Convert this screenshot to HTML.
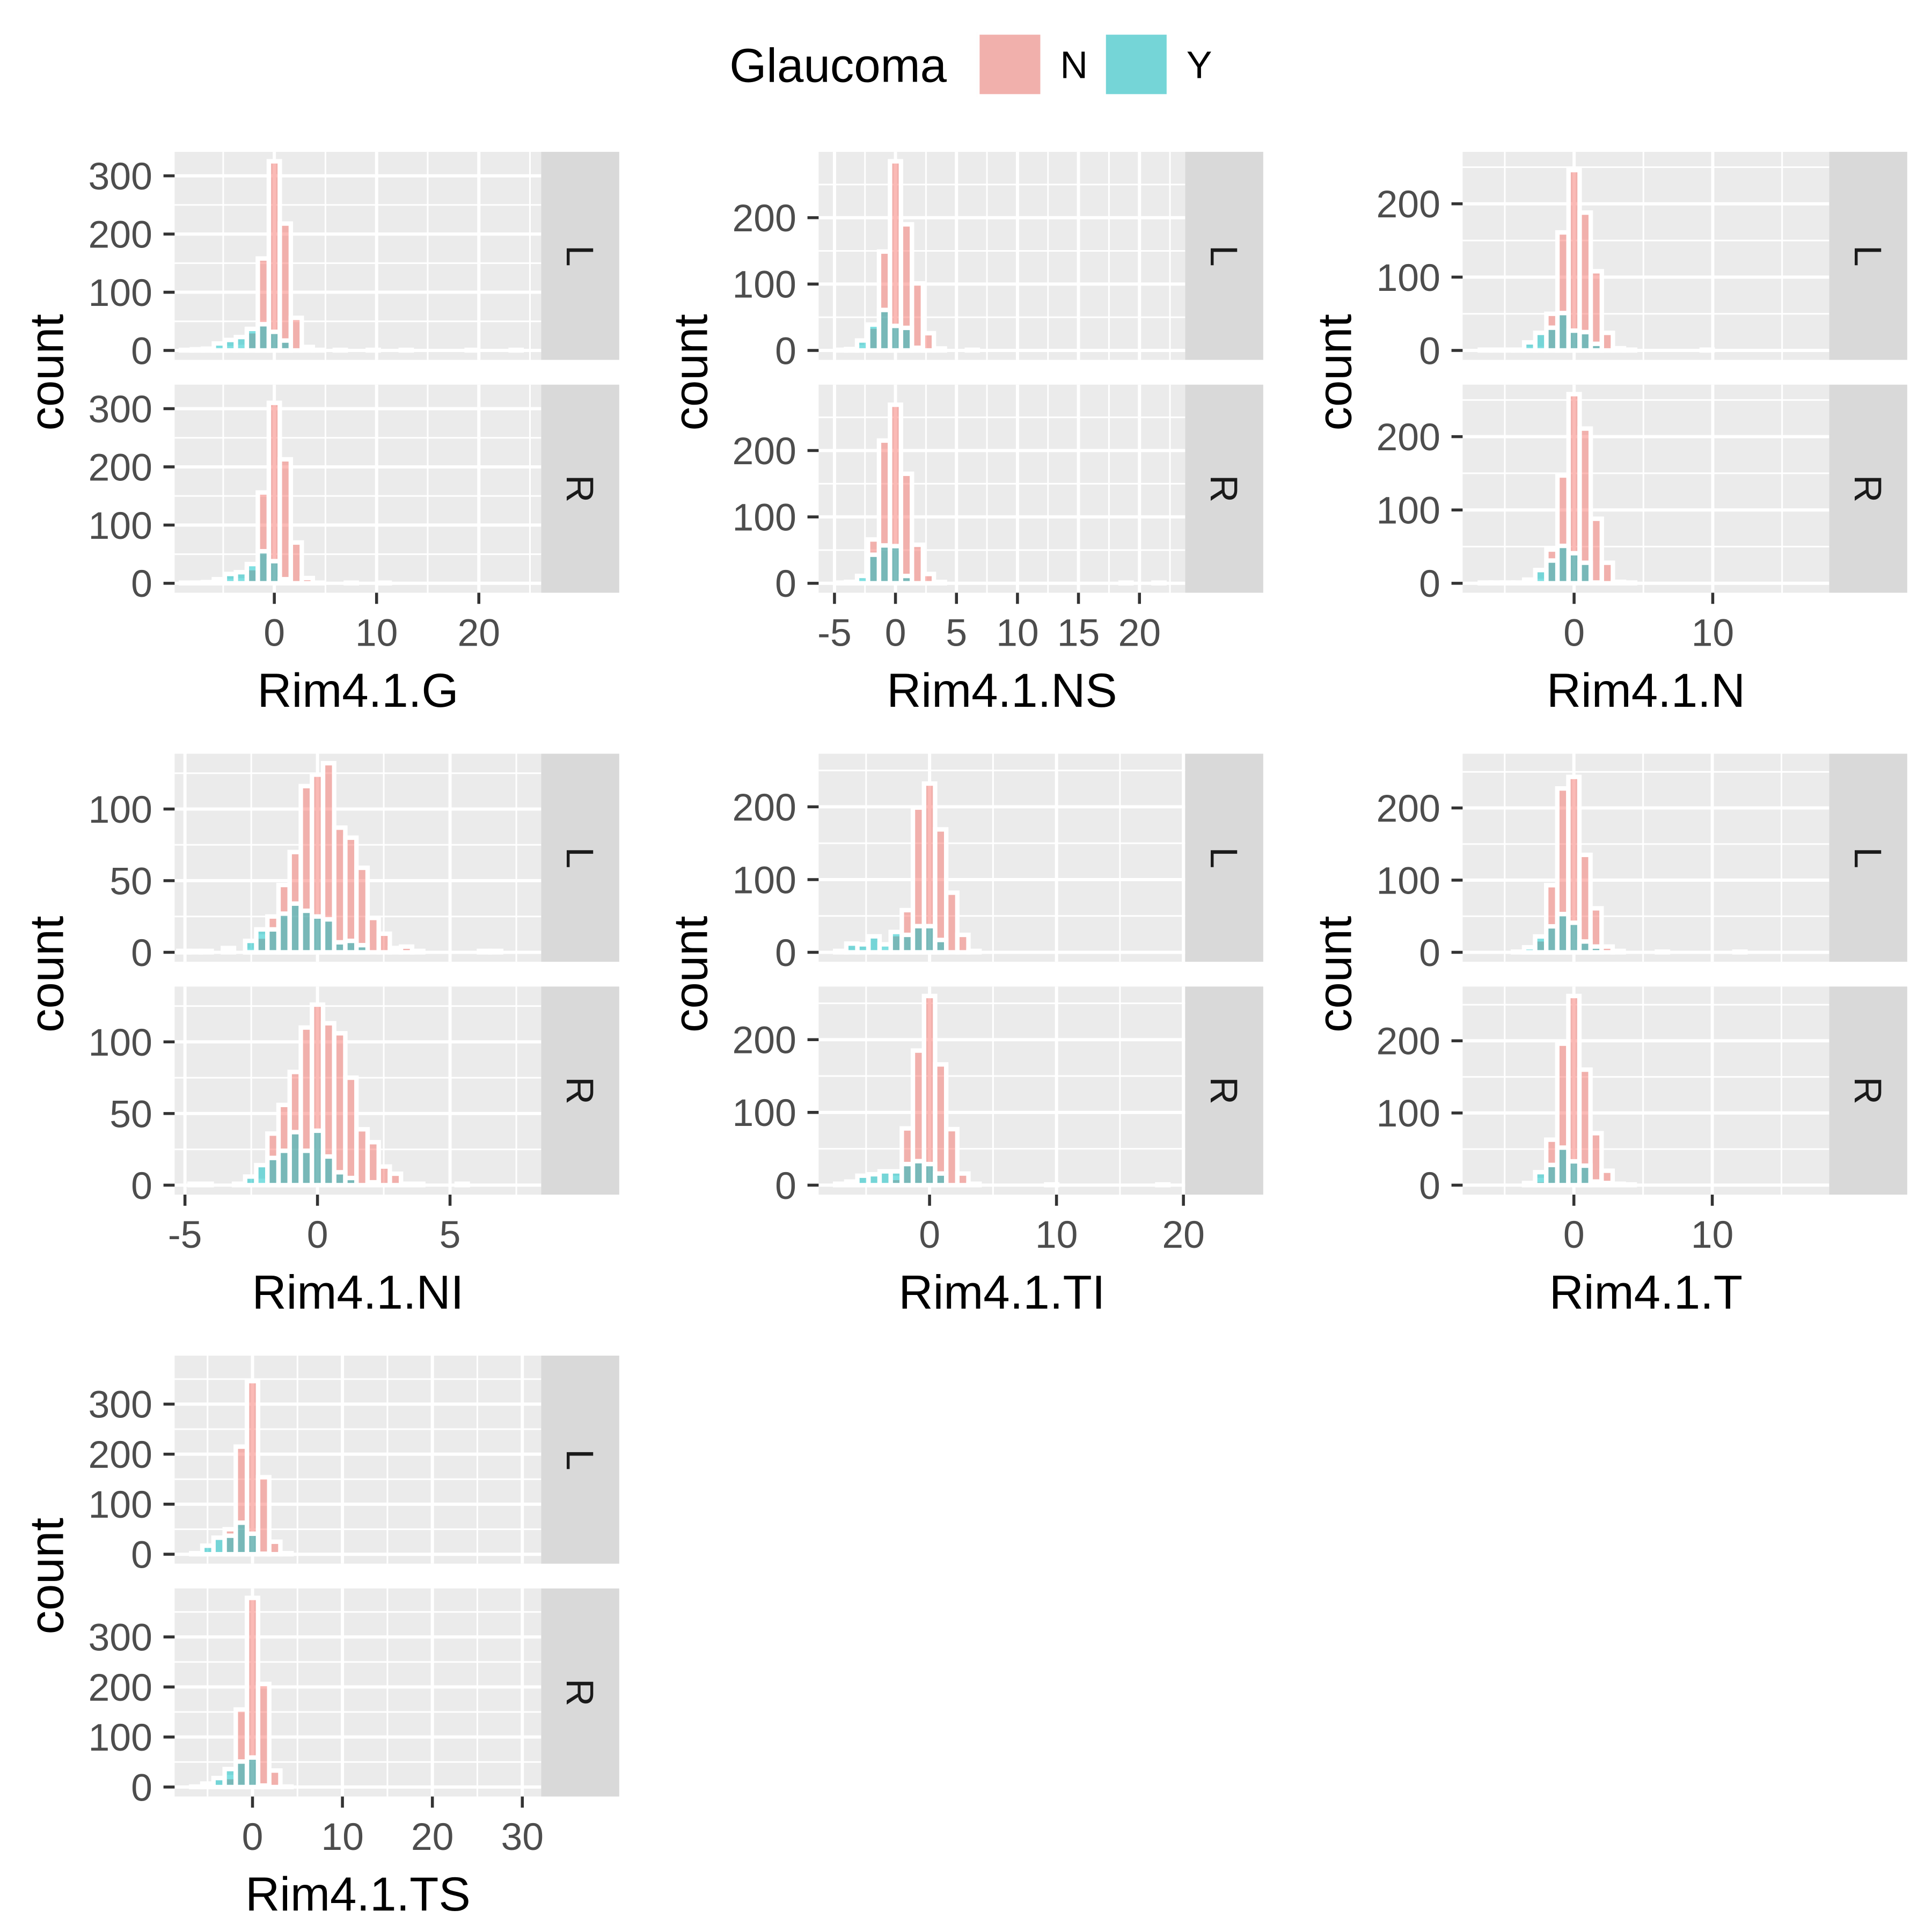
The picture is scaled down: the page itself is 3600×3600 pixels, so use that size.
<!DOCTYPE html>
<html>
<head>
<meta charset="utf-8">
<style>
html,body{margin:0;padding:0;background:#fff;}
svg{display:block;}
text{font-family:"Liberation Sans",Arial,sans-serif;}
</style>
</head>
<body>
<svg id="chart" xmlns="http://www.w3.org/2000/svg" width="3600" height="3600" viewBox="0 0 1560 1560">
  <rect x="0" y="0" width="1560" height="1560" fill="#ffffff"/>
  <g>
    <text x="589" y="66" font-size="38.5" fill="#000">Glaucoma</text>
    <rect x="789" y="26" width="53" height="52" fill="#EBEBEB"/>
    <rect x="790" y="27" width="51" height="50" fill="rgba(248,118,109,0.5)" stroke="#fff" stroke-width="2"/>
    <text x="856" y="63" font-size="31" fill="#000">N</text>
    <rect x="891" y="26" width="53" height="52" fill="#EBEBEB"/>
    <rect x="892" y="27" width="51" height="50" fill="rgba(0,191,196,0.5)" stroke="#fff" stroke-width="2"/>
    <text x="958" y="63" font-size="31" fill="#000">Y</text>
  </g>
  <g id="panels"></g>
</svg>
<script>
// ---- Data (counts per bin; bins start at index k0, bin width bw) ----
// Rim4.1.G
const gL_N = [1,2,2,3,4,6,33,158,325,218,56,6,1,0,1,0,0,1,0,0,1,0,0,0,0,0,1,0,0,0,1,0];
const gL_Y = [0,1,3,12,18,23,37,45,32,17,0,0,0,0,0,0,0,0,0,0,0,0,0,0,0,0,0,0,0,0,0,0];
const gR_N = [1,1,2,3,4,5,26,156,310,213,70,9,1,0,0,1,0,0,1,0,0,0,0,0,0,0,0,0,0,0,0,0];
const gR_Y = [0,1,2,7,16,19,33,55,38,7,0,0,0,0,0,0,0,0,0,0,0,0,0,0,0,0,0,0,0,0,0,0];
// Rim4.1.NS
const nsL_N = [0,1,2,5,36,149,285,190,101,26,3,0,0,1,0,0,0,0,0,0,0,0,0,0,0,0,0,0,0,0,0,0];
const nsL_Y = [0,0,2,15,39,61,37,34,4,0,0,0,0,0,0,0,0,0,0,0,0,0,0,0,0,0,0,0,0,0,0,0];
const nsR_N = [0,1,2,3,66,215,269,165,58,14,2,0,0,0,0,0,0,0,0,0,0,0,0,0,0,0,0,1,0,0,1,0];
const nsR_Y = [0,0,2,11,43,57,56,11,0,0,0,0,0,0,0,0,0,0,0,0,0,0,0,0,0,0,0,0,0,0,0,0];
// Rim4.1.N
const nL_N = [0,1,1,1,1,2,2,50,161,246,188,108,24,3,1,0,0,0,0,0,0,1,0,0,0,0,0,0,0,0,0,0];
const nL_Y = [0,0,0,0,1,11,24,31,51,27,25,9,0,0,0,0,0,0,0,0,0,0,0,0,0,0,0,0,0,0,0,0];
const nR_N = [0,1,1,1,1,1,3,46,147,258,211,88,28,2,1,0,0,0,0,0,0,0,0,0,0,0,0,0,0,0,0,0];
const nR_Y = [0,0,0,0,0,5,18,31,51,41,28,1,0,0,0,0,0,0,0,0,0,0,0,0,0,0,0,0,0,0,0,0];
// Rim4.1.NI
const niL_N = [1,1,1,0,0,0,1,11,25,47,70,116,124,132,87,80,59,24,13,3,4,1,0,0,0,0,0,1,1,0,0,0];
const niL_Y = [0,0,0,0,3,0,8,16,16,27,34,29,25,23,7,8,5,0,0,0,0,0,0,0,0,0,0,0,0,0,0,0];
const niR_N = [0,1,1,0,0,0,0,3,36,56,79,110,126,113,106,75,39,30,13,8,1,1,0,0,0,1,0,0,0,0,0,0];
const niR_Y = [0,0,0,0,0,1,6,14,19,24,37,24,38,20,9,5,0,2,0,0,0,0,0,0,0,0,0,0,0,0,0,0];
// Rim4.1.TI
const tiL_N = [0,2,0,0,0,5,25,58,199,232,169,82,24,2,0,0,0,0,0,0,0,0,0,0,0,0,0,0,0,0,0,0];
const tiL_Y = [0,0,12,11,22,11,28,24,36,36,17,0,0,0,0,0,0,0,0,0,0,0,0,0,0,0,0,0,0,0,0,0];
const tiR_N = [0,2,0,0,0,0,10,78,185,260,166,77,16,2,0,0,0,0,0,0,1,0,0,0,0,0,0,0,0,0,1,0];
const tiR_Y = [0,0,5,13,15,19,19,29,33,29,16,0,0,0,0,0,0,0,0,0,0,0,0,0,0,0,0,0,0,0,0,0];
// Rim4.1.T
const tL_N = [0,0,0,0,1,1,18,93,227,243,135,61,8,2,0,0,0,1,0,0,0,0,0,0,1,0,0,0,0,0,0,0];
const tL_Y = [0,0,0,0,0,7,22,36,53,41,15,8,0,0,0,0,0,0,0,0,0,0,0,0,0,0,0,0,0,0,0,0];
const tR_N = [0,0,0,0,0,1,7,63,196,262,160,72,20,2,1,0,0,0,0,0,0,0,0,0,0,0,0,0,0,0,0,0];
const tR_Y = [0,0,0,0,0,3,18,28,52,33,27,5,3,0,0,0,0,0,0,0,0,0,0,0,0,0,0,0,0,0,0,0];
// Rim4.1.TS
const tsL_N = [0,2,0,0,50,215,346,154,25,2,0,0,0,0,0,0,0,0,0,0,0,0,0,0,0,0,0,0,0,0,0,0];
const tsL_Y = [0,0,17,33,37,63,41,1,0,0,0,0,0,0,0,0,0,0,0,0,0,0,0,0,0,0,0,0,0,0,0,0];
const tsR_N = [0,1,0,0,20,155,378,206,33,1,0,0,0,0,0,0,0,0,0,0,0,0,0,0,0,0,0,0,0,0,0,0];
const tsR_Y = [0,0,7,18,36,51,59,3,0,0,0,0,0,0,0,0,0,0,0,0,0,0,0,0,0,0,0,0,0,0,0,0];

// Tick labels
const gXTicks = [0,10,20];            const gYTicks = [0,100,200,300];
const nsXTicks = [-5,0,5,10,15,20];   const nsYTicks = [0,100,200];
const nXTicks = [0,10];               const nYTicks = [0,100,200];
const niXTicks = [-5,0,5];            const niYTicks = [0,50,100];
const tiXTicks = [0,10,20];           const tiYTicks = [0,100,200];
const tXTicks = [0,10];               const tYTicks = [0,100,200];
const tsXTicks = [0,10,20,30];        const tsYTicks = [0,100,200,300];

const facetLabels = ["L","R"];
const seriesNames = ["N","Y"];

const NS = "http://www.w3.org/2000/svg";
const root = document.getElementById("panels");

function mk(tag, attrs, parent){
  const e = document.createElementNS(NS, tag);
  for (const k in attrs) e.setAttribute(k, attrs[k]);
  parent.appendChild(e);
  return e;
}
function minorOf(ticks, lo, hi){
  const step = ticks.length>1 ? ticks[1]-ticks[0] : 10;
  const out = [];
  for (let v = ticks[0]-step*3 + step/2; v <= hi; v += step){ if (v>=lo) out.push(v); }
  return out;
}

const panels = [
  {id:"g", title:"Rim4.1.G", col:0,row:0, xdom:[-9.75,26.1], bw:1.075, k0:-8, L:[gL_N,gL_Y], R:[gR_N,gR_Y], xt:gXTicks, yt:gYTicks},
  {id:"ns", title:"Rim4.1.NS", col:1,row:0, xdom:[-6.3,23.75], bw:0.9, k0:-6, L:[nsL_N,nsL_Y], R:[nsR_N,nsR_Y], xt:nsXTicks, yt:nsYTicks},
  {id:"n", title:"Rim4.1.N", col:2,row:0, xdom:[-8.04,18.4], bw:0.8, k0:-9, L:[nL_N,nL_Y], R:[nR_N,nR_Y], xt:nXTicks, yt:nYTicks},
  {id:"ni", title:"Rim4.1.NI", col:0,row:1, xdom:[-5.39,8.44], bw:0.42, k0:-12, L:[niL_N,niL_Y], R:[niR_N,niR_Y], xt:niXTicks, yt:niYTicks},
  {id:"ti", title:"Rim4.1.TI", col:1,row:1, xdom:[-8.74,20.14], bw:0.875, k0:-9, L:[tiL_N,tiL_Y], R:[tiR_N,tiR_Y], xt:tiXTicks, yt:tiYTicks},
  {id:"t", title:"Rim4.1.T", col:2,row:1, xdom:[-8.04,18.45], bw:0.8, k0:-9, L:[tL_N,tL_Y], R:[tR_N,tR_Y], xt:tXTicks, yt:tYTicks},
  {id:"ts", title:"Rim4.1.TS", col:0,row:2, xdom:[-8.66,32.1], bw:1.24, k0:-6, L:[tsL_N,tsL_Y], R:[tsR_N,tsR_Y], xt:tsXTicks, yt:tsYTicks}
];

const PW = 296, SW = 63, PH = 168, GAP = 20;
const fills = ["rgba(248,118,109,0.5)","rgba(0,191,196,0.5)"];

panels.forEach(function(p){
  const px = 141 + p.col*520;
  const top0 = 122.6 + p.row*486;
  const g = mk("g", {}, root);
  
  

  const allMax = Math.max.apply(null, p.L[0].concat(p.L[1], p.R[0], p.R[1]));
  const ylo = -0.05*allMax, yhi = 1.05*allMax;
  const xs = function(v){ return px + (v - p.xdom[0])/(p.xdom[1]-p.xdom[0])*PW; };
  const xMinor = minorOf(p.xt, p.xdom[0], p.xdom[1]);
  const yMinor = minorOf(p.yt, ylo, yhi);

  [p.L, p.R].forEach(function(series, fi){
    const ty = top0 + fi*(PH+GAP);
    const ys = function(v){ return ty + PH - (v - ylo)/(yhi-ylo)*PH; };
    const fg = mk("g", {}, g);
    
    
    const bg = mk("rect", {x:px, y:ty, width:PW, height:PH, fill:"#EBEBEB"}, fg);
    
    
    const clipId = "clip-" + p.id + fi;
    const cp = mk("clipPath", {id:clipId}, fg);
    mk("rect", {x:px, y:ty, width:PW, height:PH}, cp);
    const inner = mk("g", {"clip-path":"url(#"+clipId+")"}, fg);
    xMinor.forEach(function(v){
      const l = mk("line", {x1:xs(v), x2:xs(v), y1:ty, y2:ty+PH, stroke:"#fff", "stroke-width":1.3}, inner);
      
      
    });
    yMinor.forEach(function(v){
      const l = mk("line", {x1:px, x2:px+PW, y1:ys(v), y2:ys(v), stroke:"#fff", "stroke-width":1.3}, inner);
      
      
    });
    p.xt.forEach(function(v){
      const l = mk("line", {x1:xs(v), x2:xs(v), y1:ty, y2:ty+PH, stroke:"#fff", "stroke-width":2.6}, inner);
      
      
    });
    p.yt.forEach(function(v){
      const l = mk("line", {x1:px, x2:px+PW, y1:ys(v), y2:ys(v), stroke:"#fff", "stroke-width":2.6}, inner);
      
      
    });
    series.forEach(function(arr, si){
      arr.forEach(function(v, i){
        const c = (p.k0 + i)*p.bw;
        const x0 = xs(c - p.bw/2), x1 = xs(c + p.bw/2);
        const y0 = ys(v), yb = ys(0);
        const r = mk("rect", {x:x0, y:y0, width:x1-x0, height:Math.max(0,yb-y0), fill:fills[si], stroke:"#fff", "stroke-width":3.6}, inner);
        
        
      });
    });
    p.yt.forEach(function(v){
      const t = mk("line", {x1:px-9, x2:px, y1:ys(v), y2:ys(v), stroke:"#333", "stroke-width":2.4}, fg);
      
      
      const lb = mk("text", {x:px-18, y:ys(v)+11, "font-size":31, fill:"#4D4D4D", "text-anchor":"end"}, fg);
      lb.textContent = String(v);
      
      
    });
    const st = mk("rect", {x:px+PW, y:ty, width:SW, height:PH, fill:"#D9D9D9"}, fg);
    
    
    const sx = px+PW+SW/2, sy = ty+PH/2;
    const stx = mk("text", {x:sx, y:sy, "font-size":31, fill:"#1A1A1A", "text-anchor":"middle", transform:"rotate(90 "+sx+" "+sy+")", dy:"11"}, fg);
    stx.textContent = facetLabels[fi];
    
    
  });

  const bottom = top0 + 2*PH + GAP;
  p.xt.forEach(function(v){
    const t = mk("line", {x1:xs(v), x2:xs(v), y1:bottom, y2:bottom+9, stroke:"#333", "stroke-width":2.4}, g);
    
    
    const lb = mk("text", {x:xs(v), y:bottom+43, "font-size":31, fill:"#4D4D4D", "text-anchor":"middle"}, g);
    lb.textContent = String(v);
    
    
  });
  const xt = mk("text", {x:px+PW/2, y:bottom+92, "font-size":38.5, fill:"#000", "text-anchor":"middle"}, g);
  xt.textContent = p.title;
  
  
  const yx = 51 + p.col*520, yy = top0 + PH + GAP/2;
  const ytt = mk("text", {x:yx, y:yy, "font-size":38.5, fill:"#000", "text-anchor":"middle", transform:"rotate(-90 "+yx+" "+yy+")"}, g);
  ytt.textContent = "count";
  
  
});
</script>
</body>
</html>
